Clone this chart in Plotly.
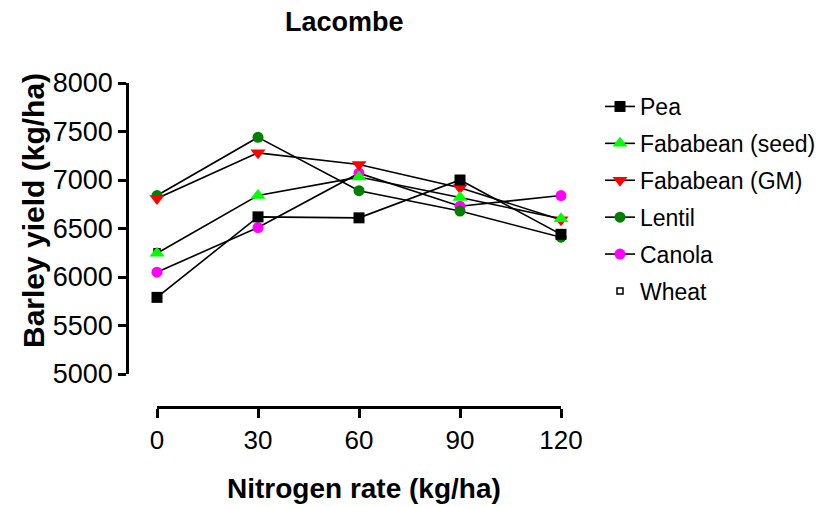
import plotly.graph_objects as go

W, H = 833, 507

nitrogen = [0, 30, 60, 90, 120]
pea = [5790, 6620, 6610, 7000, 6440]
fababean_seed = [6245, 6840, 7030, 6820, 6600]
fababean_gm = [6810, 7280, 7160, 6920, 6590]
lentil = [6840, 7440, 6890, 6680, 6410]
canola = [6050, 6510, 7070, 6730, 6840]
wheat_x = [0]
wheat = [6260]

y_ticks = [5000, 5500, 6000, 6500, 7000, 7500, 8000]
x_ticks = [0, 30, 60, 90, 120]

series = [
    ("Pea", pea, "square", "black", 11),
    ("Fababean (seed)", fababean_seed, "triangle-up", "#00ff00", 13),
    ("Fababean (GM)", fababean_gm, "triangle-down", "#ff0000", 13),
    ("Lentil", lentil, "circle", "#007f00", 11),
    ("Canola", canola, "circle", "#ff00ff", 11),
]

fig = go.Figure()
# Wheat drawn first (bottom), then series in reverse so Pea is on top
fig.add_trace(go.Scatter(
    x=wheat_x, y=wheat, name="Wheat", mode="markers",
    marker=dict(symbol="square-open", color="black", size=6, line=dict(width=1.5)),
    cliponaxis=False, legendgroup="g6", legendrank=6,
))
for i in reversed(range(len(series))):
    name, vals, sym, col, sz = series[i]
    fig.add_trace(go.Scatter(
        x=nitrogen, y=vals, name=name, mode="lines+markers",
        line=dict(color="black", width=1.6),
        marker=dict(symbol=sym, color=col, size=sz, line=dict(width=0)),
        cliponaxis=False, legendgroup=f"g{i}", legendrank=i + 1,
    ))

def px_x(p):
    return p / W

def px_y(p):
    return (H - p) / H

font = "Liberation Sans, Arial, sans-serif"

fig.update_layout(
    width=W, height=H, autosize=False,
    margin=dict(l=0, r=0, t=0, b=0),
    paper_bgcolor="white", plot_bgcolor="white",
    font=dict(family=font, color="black"),
    showlegend=True,
    legend=dict(
        x=px_x(600), y=px_y(85), xanchor="left", yanchor="top",
        font=dict(size=23, family=font, color="black"),
        tracegroupgap=4, bgcolor="rgba(0,0,0,0)",
        traceorder="grouped",
    ),
    xaxis=dict(
        domain=[px_x(157), px_x(561)], range=[0, 120],
        anchor="free", position=px_y(407),
        tickvals=x_ticks, ticktext=[str(v) for v in x_ticks],
        showline=True, linecolor="black", linewidth=2.5,
        ticks="outside", ticklen=9, tickwidth=2.5, tickcolor="black",
        tickfont=dict(size=26, family=font), showgrid=False, zeroline=False,
        automargin=False,
    ),
    yaxis=dict(
        domain=[px_y(374), px_y(83)], range=[5000, 8000],
        anchor="free", position=px_x(127),
        tickvals=y_ticks, ticktext=[str(v) for v in y_ticks],
        showline=True, linecolor="black", linewidth=2.5,
        ticks="outside", ticklen=8, tickwidth=2.5, tickcolor="black",
        tickfont=dict(size=27, family=font), showgrid=False, zeroline=False,
        automargin=False,
    ),
    annotations=[
        dict(text="<b>Lacombe</b>", x=px_x(344), y=px_y(22), xref="paper", yref="paper",
             showarrow=False, xanchor="center", yanchor="middle",
             font=dict(size=27, family=font)),
        dict(text="<b>Nitrogen rate (kg/ha)</b>", x=px_x(364), y=px_y(488), xref="paper", yref="paper",
             showarrow=False, xanchor="center", yanchor="middle",
             font=dict(size=28, family=font)),
        dict(text="<b>Barley yield (kg/ha)</b>", x=px_x(33), y=px_y(211), xref="paper", yref="paper",
             showarrow=False, xanchor="center", yanchor="middle", textangle=-90,
             font=dict(size=30, family=font)),
    ],
)

fig.write_html("out.html")
